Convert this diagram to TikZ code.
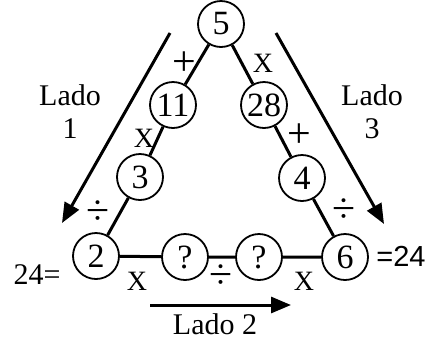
\documentclass[tikz,border=0pt]{standalone}
\usepackage{fontspec}
\setmainfont{Liberation Serif}
\newfontfamily\arialfont{Liberation Sans}
\usetikzlibrary{arrows.meta}

\tikzset{
  num/.style={draw,circle,line width=1.8pt,minimum size=46pt,inner sep=0pt,
    font=\fontsize{34}{34}\selectfont},
  link/.style={line width=3pt},
  opx/.style={font=\fontsize{28}{28}\selectfont},
  opbig/.style={font=\fontsize{42}{42}\selectfont},
  lado/.style={line width=3pt,-{Triangle[length=20pt,width=16pt]}},
  txt/.style={font=\fontsize{30}{33}\selectfont,align=center,inner sep=1pt}
}

\begin{document}
\begin{tikzpicture}[x=1pt,y=-1pt]
\useasboundingbox (0,0) rectangle (428,341);

% the triangle of numbers
\node[num] (n5) at (221,24) {5};
\node[num] (n11) at (173,105) {11};
\node[num] (n3) at (140,177) {3};
\node[num] (n2) at (96,256) {2};
\node[num] (qa) at (185,257) {?};
\node[num] (qb) at (259,257) {?};
\node[num] (n6) at (345,257) {6};
\node[num] (n4) at (302,178) {4};
\node[num] (n28) at (264,105) {28};

\draw[link] (n5) -- (n11) -- (n3) -- (n2) -- (qa) -- (qb) -- (n6) -- (n4) -- (n28) -- (n5);

% operations
\node[opbig] (p1) at (184,64) {+};
\node[opx] (x1) at (144,138) {X};
\node[opbig] (d1) at (98,213) {÷};
\node[opx] (x2) at (263,63) {X};
\node[opbig] (p2) at (299,136) {+};
\node[opbig] (d2) at (344,211) {÷};
\node[opx] (x3) at (137,281) {X};
\node[opbig] (d3) at (221,277) {÷};
\node[opx] (x4) at (304,281) {X};

% results
\node[txt] (r1) at (37,275) {24=};
\node[txt,font=\arialfont\fontsize{29}{33}\selectfont] (r2) at (401,256) {=24};

% sides
\coordinate (s1a) at (170,33);
\coordinate (s1b) at (62,223);
\coordinate (s3a) at (276,33);
\coordinate (s3b) at (384,224);
\coordinate (s2a) at (150,305);
\coordinate (s2b) at (291,305);
\draw[lado] (s1a) -- (s1b);
\draw[lado] (s3a) -- (s3b);
\draw[lado] (s2a) -- (s2b);
\node[txt] (lado1) at (70,112) {Lado\\1};
\node[txt] (lado3) at (372,112) {Lado\\3};
\node[txt] (lado2) at (215,324) {Lado 2};
\end{tikzpicture}
\end{document}
